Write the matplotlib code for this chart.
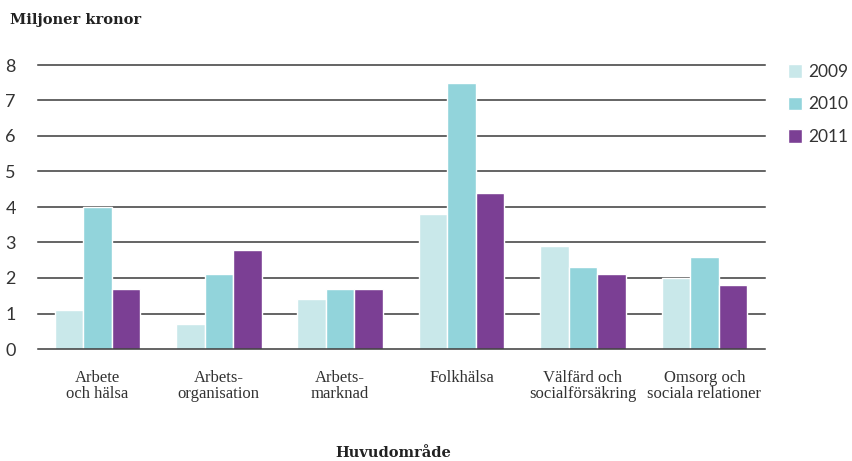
import matplotlib
matplotlib.use("Agg")
import matplotlib.pyplot as plt
import numpy as np

categories = ["Arbete\noch hälsa", "Arbets-\norganisation", "Arbets-\nmarknad",
              "Folkhälsa", "Välfärd och\nsocialförsäkring", "Omsorg och\nsociala relationer"]
years = ["2009", "2010", "2011"]
v2009 = [1.1, 0.7, 1.4, 3.8, 2.9, 2.0]
v2010 = [4.0, 2.1, 1.7, 7.5, 2.3, 2.6]
v2011 = [1.7, 2.8, 1.7, 4.4, 2.1, 1.8]
yticks = [0, 1, 2, 3, 4, 5, 6, 7, 8]

colors = ["#c9e8ea", "#92d4db", "#7b3f94"]
series = [v2009, v2010, v2011]

W, H = 852, 461
fig = plt.figure(figsize=(W / 100, H / 100), dpi=100)
ax = fig.add_axes([38 / W, 1 - 349 / H, (765 - 38) / W, (349 - 65) / H])

x = np.arange(len(categories))
bw = 0.235
for i, (vals, c, lab) in enumerate(zip(series, colors, years)):
    ax.bar(x + (i - 1) * bw, vals, width=bw, color=c, edgecolor="white",
           linewidth=1.0, label=lab, zorder=3)

ax.set_xlim(-0.49, 5.5)
ax.set_ylim(0, 8)
ax.set_yticks(yticks)
for t in yticks:
    ax.axhline(t, color="#3a3a3a", linewidth=1.1, zorder=1 if t else 4, clip_on=False)
ax.grid(False)
for s in ax.spines.values():
    s.set_visible(False)
ax.tick_params(axis="y", length=0, pad=16, labelsize=13, labelcolor="#333333")
for lbl in ax.get_yticklabels():
    lbl.set_family("Lato")
ax.set_xticks(x)
ax.set_xticklabels(categories, family="Liberation Serif", fontsize=12,
                   color="#333333", linespacing=1.05)
ax.tick_params(axis="x", length=0, pad=15)

fig.text(10 / W, 1 - 20 / H, "Miljoner kronor", family="DejaVu Serif",
         fontweight="bold", fontsize=10.5, color="#222222", va="center", ha="left")
fig.text(393 / W, 1 - 453 / H, "Huvudområde", family="DejaVu Serif",
         fontweight="bold", fontsize=10.5, color="#222222", va="center", ha="center")

leg = fig.legend(loc="upper left", bbox_to_anchor=(781 / W, 1 - 57 / H),
                 frameon=False, prop={"family": "Lato", "size": 12.5},
                 handlelength=0.8, handleheight=0.8, handletextpad=0.35,
                 labelspacing=0.95, borderaxespad=0)
for t in leg.get_texts():
    t.set_color("#333333")

fig.savefig("out.png", dpi=100)
